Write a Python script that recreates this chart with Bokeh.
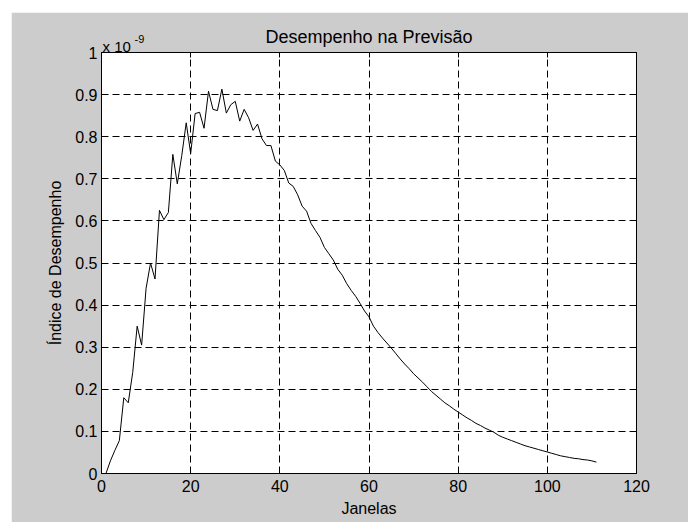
from bokeh.plotting import figure
from bokeh.models import FixedTicker, CustomJSTickFormatter, LinearAxis, Label
from bokeh.embed import file_html
from bokeh.resources import INLINE

# Janelas (window index)
janelas = list(range(1, 112))
# Indice de Desempenho, in units of 1e-9 (axis multiplier "x 10^-9")
indice = [
    0.000, 0.030, 0.055, 0.078, 0.180, 0.168, 0.240, 0.350, 0.305, 0.440,
    0.500, 0.462, 0.625, 0.603, 0.620, 0.758, 0.688, 0.755, 0.833, 0.760,
    0.855, 0.858, 0.820, 0.908, 0.865, 0.862, 0.913, 0.856, 0.876, 0.884,
    0.837, 0.865, 0.845, 0.815, 0.830, 0.795, 0.779, 0.779, 0.742, 0.733,
    0.720, 0.690, 0.682, 0.662, 0.635, 0.623, 0.594, 0.577, 0.561, 0.537,
    0.522, 0.507, 0.485, 0.471, 0.451, 0.435, 0.421, 0.404, 0.386, 0.372,
    0.350, 0.335, 0.322, 0.310, 0.298, 0.285, 0.272, 0.260, 0.249, 0.237,
    0.227, 0.217, 0.206, 0.195, 0.186, 0.177, 0.168, 0.161, 0.153, 0.146,
    0.139, 0.132, 0.126, 0.119, 0.114, 0.108, 0.103, 0.098, 0.091, 0.086,
    0.082, 0.078, 0.074, 0.070, 0.066, 0.063, 0.060, 0.057, 0.054, 0.051,
    0.048, 0.045, 0.042, 0.040, 0.038, 0.036, 0.035, 0.033, 0.032, 0.030,
    0.027,
]
x_ticks = [0, 20, 40, 60, 80, 100, 120]
y_ticks = [0, 0.1, 0.2, 0.3, 0.4, 0.5, 0.6, 0.7, 0.8, 0.9, 1.0]
title_text = "Desempenho na Previsão"

FONT = "Liberation Sans"
GRAY = "#cccccc"

p = figure(width=677, height=510, output_backend="svg", toolbar_location=None,
           x_range=(0, 120), y_range=(0, 1), title=title_text,
           x_axis_label="Janelas", y_axis_label="Índice de Desempenho",
           min_border_left=90, min_border_right=52, min_border_top=40, min_border_bottom=49)
p.margin = (12, 0, 0, 11)
p.background_fill_color = "white"
p.border_fill_color = GRAY
p.outline_line_color = "black"
p.outline_line_width = 1

p.title.align = "center"
p.title.text_font = FONT
p.title.text_font_size = "18px"
p.title.text_font_style = "normal"
p.title.text_color = "black"
p.title.standoff = 12

yfmt = CustomJSTickFormatter(code="return (Math.round(tick*10)/10).toString();")
blank = CustomJSTickFormatter(code="return '';")

for ax in p.xaxis + p.yaxis:
    ax.axis_line_color = "black"
    ax.major_tick_line_color = "black"
    ax.major_tick_in = 5
    ax.major_tick_out = 0
    ax.minor_tick_in = 0
    ax.minor_tick_out = 0
    ax.major_label_text_font = FONT
    ax.major_label_text_font_size = "16px"
    ax.major_label_text_color = "black"
    ax.axis_label_text_font = FONT
    ax.axis_label_text_font_size = "16px"
    ax.axis_label_text_font_style = "normal"
    ax.axis_label_text_color = "black"

p.xaxis.ticker = FixedTicker(ticks=x_ticks)
p.yaxis.ticker = FixedTicker(ticks=y_ticks)
p.yaxis.formatter = yfmt
p.xaxis.major_label_standoff = 6
p.xaxis.axis_label_standoff = 5
p.yaxis.major_label_standoff = 4
p.yaxis.axis_label_standoff = 8

top = LinearAxis(ticker=FixedTicker(ticks=x_ticks), formatter=blank,
                 major_tick_in=5, major_tick_out=0, minor_tick_in=0, minor_tick_out=0,
                 axis_line_color="black", major_label_standoff=0,
                 major_label_text_font_size="1px")
right = LinearAxis(ticker=FixedTicker(ticks=y_ticks), formatter=blank,
                   major_tick_in=5, major_tick_out=0, minor_tick_in=0, minor_tick_out=0,
                   axis_line_color="black", major_label_standoff=0,
                   major_label_text_font_size="1px")
p.add_layout(top, "above")
p.add_layout(right, "right")

# axis multiplier "x 10^-9"; placed in a border panel (so it is not clipped to
# the frame) and positioned in absolute canvas coordinates
mult = Label(x=91, y=34, text="x 10", x_units="canvas", y_units="canvas",
             text_font=FONT, text_font_size="15px", text_color="black",
             text_baseline="middle", text_align="left")
sup = Label(x=123, y=26, text="-9", x_units="canvas", y_units="canvas",
            text_font=FONT, text_font_size="11px", text_color="black",
            text_baseline="middle", text_align="left")
p.add_layout(mult, "right")
p.add_layout(sup, "right")

p.xgrid.ticker = FixedTicker(ticks=x_ticks)
p.ygrid.ticker = FixedTicker(ticks=y_ticks)
for g in (p.xgrid[0], p.ygrid[0]):
    g.grid_line_color = "black"
    g.grid_line_dash = "7 4"
    g.grid_line_width = 1

p.line(janelas, indice, line_color="black", line_width=1)

open("out.html", "w").write(file_html(p, INLINE))
